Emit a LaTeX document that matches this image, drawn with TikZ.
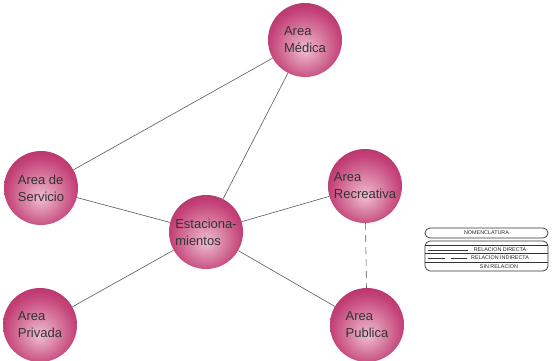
\documentclass[tikz,border=0pt]{standalone}
\usepackage{fontspec}
\setmainfont{Liberation Sans}
\definecolor{burbujaC}{RGB}{238,190,208}
\definecolor{burbujaM}{RGB}{196,66,120}
\definecolor{burbujaE}{RGB}{145,18,70}
\definecolor{texto}{RGB}{51,51,51}
\pgfdeclareradialshading{burbuja}{\pgfpoint{0bp}{-7bp}}{color(0bp)=(burbujaC); color(24bp)=(burbujaM); color(44bp)=(burbujaE); color(50bp)=(burbujaE)}
\begin{document}
\begin{tikzpicture}[x=1pt, y=-1pt,
        zona/.style={circle, minimum size=74pt, inner sep=0pt, shading=burbuja, align=left, text=texto, font=\fontsize{13}{17}\selectfont},
        enlace/.style={draw=black!65, line width=0.6pt},
        indirecto/.style={enlace, dash pattern=on 7pt off 5pt},
        caja/.style={draw=black!80, line width=0.7pt, rounded corners=5pt, minimum width=123pt, inner sep=0pt},
        leyenda/.style={font=\fontsize{5.4}{6}\selectfont, inner sep=0pt, text=black!85}
      ]
        \useasboundingbox (0,0) rectangle (553,360);
        \node[zona] (medica) at (305,40) {Area\\Médica};
        \node[zona] (servicio) at (41,188) {Area de\\Servicio};
        \node[zona] (estac) at (206,232) {Estaciona-\\mientos};
        \node[zona] (recreativa) at (365,186) {Area\\Recreativa};
        \node[zona] (privada) at (40,325) {Area\\Privada};
        \node[zona] (publica) at (367,325) {Area\\Publica};
        \draw[enlace] (servicio) -- (medica);
        \draw[enlace] (medica) -- (estac);
        \draw[enlace] (servicio) -- (estac);
        \draw[enlace] (estac) -- (recreativa);
        \draw[enlace] (estac) -- (privada);
        \draw[enlace] (estac) -- (publica);
        \draw[indirecto] (recreativa) -- (publica);
        % nomenclatura
        \node[caja, minimum height=10pt, leyenda] (nomen) at (486.5,233) {NOMENCLATURA};
        \node[caja, minimum height=30pt] (tabla) at (486.5,256) {};
        \node[leyenda] (directa) at (500,249.5) {RELACION DIRECTA};
        \node[leyenda] (indirecta) at (500,258) {RELACION INDIRECTA};
        \node[leyenda] (sinrel) at (499,266.5) {SIN RELACION};
        \draw[black!80, line width=0.5pt] (tabla.west |- 0,245) -- (tabla.east |- 0,245);
        \draw[black!80, line width=0.5pt] (tabla.west |- 0,253.5) -- (tabla.east |- 0,253.5);
        \draw[black!80, line width=0.5pt] (tabla.west |- 0,262) -- (tabla.east |- 0,262);
        \draw[black!80, line width=0.6pt] (428,250.5) -- (468,250.5);
        \draw[black!80, line width=0.6pt, dash pattern=on 17pt off 6pt] (428,258.5) -- (467,258.5);
      \end{tikzpicture}
\end{document}
